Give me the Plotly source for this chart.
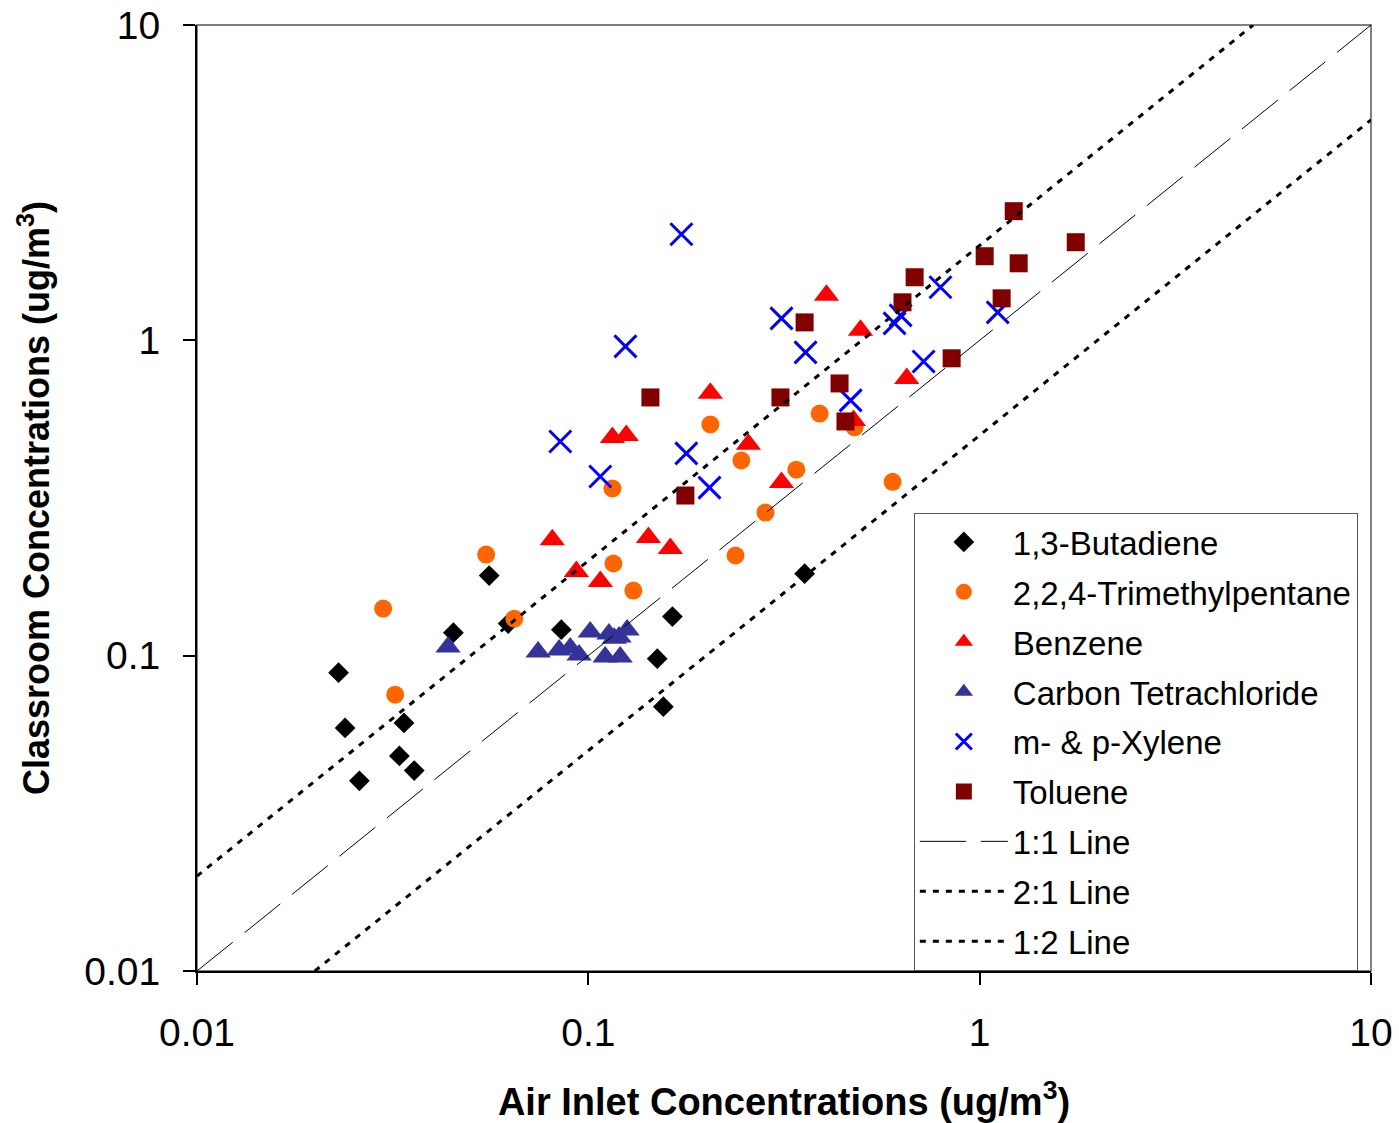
import plotly.graph_objects as go

# ---- data ----
butadiene_x = [0.0558, 0.0452, 0.0624, 0.0853, 0.164, 0.0230, 0.150, 0.0239, 0.0338, 0.0329, 0.0359, 0.0260, 0.1555, 0.357]
butadiene_y = [0.1795, 0.1183, 0.1264, 0.1209, 0.133, 0.0883, 0.0978, 0.0590, 0.0612, 0.0481, 0.0432, 0.0401, 0.0689, 0.182]

tmp_x = [0.0548, 0.0299, 0.0647, 0.0321, 0.1159, 0.1303, 0.1152, 0.205, 0.246, 0.340, 0.390, 0.479, 0.2836, 0.2377, 0.599]
tmp_y = [0.2093, 0.141, 0.131, 0.0752, 0.196, 0.1608, 0.339, 0.541, 0.416, 0.389, 0.586, 0.530, 0.2844, 0.2078, 0.356]

benzene_x = [0.0809, 0.0932, 0.1073, 0.1152, 0.125, 0.1424, 0.162, 0.205, 0.2565, 0.3116, 0.406, 0.496, 0.651, 0.476]
benzene_y = [0.233, 0.1848, 0.1718, 0.492, 0.499, 0.2368, 0.2188, 0.679, 0.468, 0.354, 1.389, 1.076, 0.757, 0.557]

ccl4_x = [0.0438, 0.0744, 0.0842, 0.0899, 0.0947, 0.1011, 0.1104, 0.1129, 0.1206, 0.1198, 0.1256, 0.1165]
ccl4_y = [0.1066, 0.1027, 0.1042, 0.1058, 0.1005, 0.1189, 0.0991, 0.1172, 0.0991, 0.1147, 0.1207, 0.1135]

xylene_x = [0.1729, 0.1244, 0.0848, 0.1073, 0.178, 0.204, 0.3116, 0.359, 0.468, 0.606, 0.628, 0.794, 0.719, 1.112]
xylene_y = [2.17, 0.957, 0.4775, 0.370, 0.438, 0.341, 1.174, 0.916, 0.645, 1.132, 1.20, 1.473, 0.857, 1.227]

toluene_x = [0.1441, 0.177, 0.3097, 0.357, 0.4385, 0.454, 0.682, 0.635, 0.848, 1.222, 1.76, 1.03, 1.258, 1.138]
toluene_y = [0.659, 0.322, 0.659, 1.140, 0.730, 0.553, 1.585, 1.32, 0.877, 2.568, 2.047, 1.848, 1.755, 1.359]

ref_names = ["1:1 Line", "2:1 Line", "1:2 Line"]
ref_ratios = [1.0, 2.0, 0.5]
axis_min, axis_max = 0.01, 10.0

tick_vals = [0.01, 0.1, 1, 10]
tick_text = ["0.01", "0.1", "1", "10"]

FONT = "Liberation Sans, Arial, sans-serif"

fig = go.Figure()

series = [
    ("1,3-Butadiene", butadiene_x, butadiene_y, "diamond", "#000000", 16),
    ("2,2,4-Trimethylpentane", tmp_x, tmp_y, "circle", "#FF6600", 18),
    ("Benzene", benzene_x, benzene_y, "triangle-up", "#FF0000", 22),
    ("Carbon Tetrachloride", ccl4_x, ccl4_y, "triangle-up", "#333399", 22),
    ("m- & p-Xylene", xylene_x, xylene_y, "x-thin-open", "#0000FF", 22),
    ("Toluene", toluene_x, toluene_y, "square", "#800000", 18),
]

for i, (name, xs, ys, sym, col, sz) in enumerate(series):
    if sym == "x-thin-open":
        marker = dict(symbol=sym, size=sz, color=col, line=dict(color=col, width=3))
    else:
        marker = dict(symbol=sym, size=sz, color=col, line=dict(width=0))
    fig.add_trace(go.Scatter(x=xs, y=ys, mode="markers", name=name, marker=marker,
                             legendgroup="g%d" % i))

for j, (name, k) in enumerate(zip(ref_names, ref_ratios)):
    x0 = max(axis_min, axis_min / k)
    x1 = min(axis_max, axis_max / k)
    if k == 1.0:
        line = dict(color="#000000", width=1, dash="46px,15px")
    else:
        line = dict(color="#000000", width=3, dash="6px,7px")
    fig.add_trace(go.Scatter(x=[x0, x1], y=[k * x0, k * x1], mode="lines", name=name,
                             line=line, legendgroup="r%d" % j))

axis_common = dict(
    type="log",
    tickvals=tick_vals,
    ticktext=tick_text,
    ticks="outside",
    ticklen=12,
    tickwidth=1.5,
    tickcolor="#000000",
    showgrid=False,
    zeroline=False,
    showline=True,
    linecolor="#000000",
    linewidth=2,
    tickfont=dict(family=FONT, size=39, color="#000000"),
    mirror=False,
)

fig.update_xaxes(**axis_common, range=[-2, 1],
                 title=dict(text="<b>Air Inlet Concentrations (ug/m<sup>3</sup>)</b>",
                            font=dict(family=FONT, size=38, color="#000000"), standoff=38),
                 ticklabelstandoff=14)
fig.update_yaxes(**axis_common, range=[-2, 1],
                 title=dict(text="<b>Classroom Concentrations (ug/m<sup>3</sup>)</b>",
                            font=dict(family=FONT, size=36, color="#000000"), standoff=24),
                 ticklabelstandoff=15)

fig.add_shape(type="rect", xref="paper", yref="paper", x0=0, y0=0, x1=1, y1=1,
              line=dict(color="#808080", width=2), layer="below")

fig.update_layout(
    width=1399,
    height=1123,
    margin=dict(l=196.5, r=27.5, t=25, b=152, autoexpand=False),
    paper_bgcolor="#FFFFFF",
    plot_bgcolor="#FFFFFF",
    font=dict(family=FONT, color="#000000"),
    showlegend=True,
    legend=dict(
        x=0.6106, y=0, xanchor="left", yanchor="bottom",
        bgcolor="#FFFFFF", bordercolor="#555555", borderwidth=1,
        font=dict(family=FONT, size=33, color="#000000"),
        itemwidth=88, tracegroupgap=4,
        itemsizing="trace",
    ),
)

fig.write_html("out.html")
